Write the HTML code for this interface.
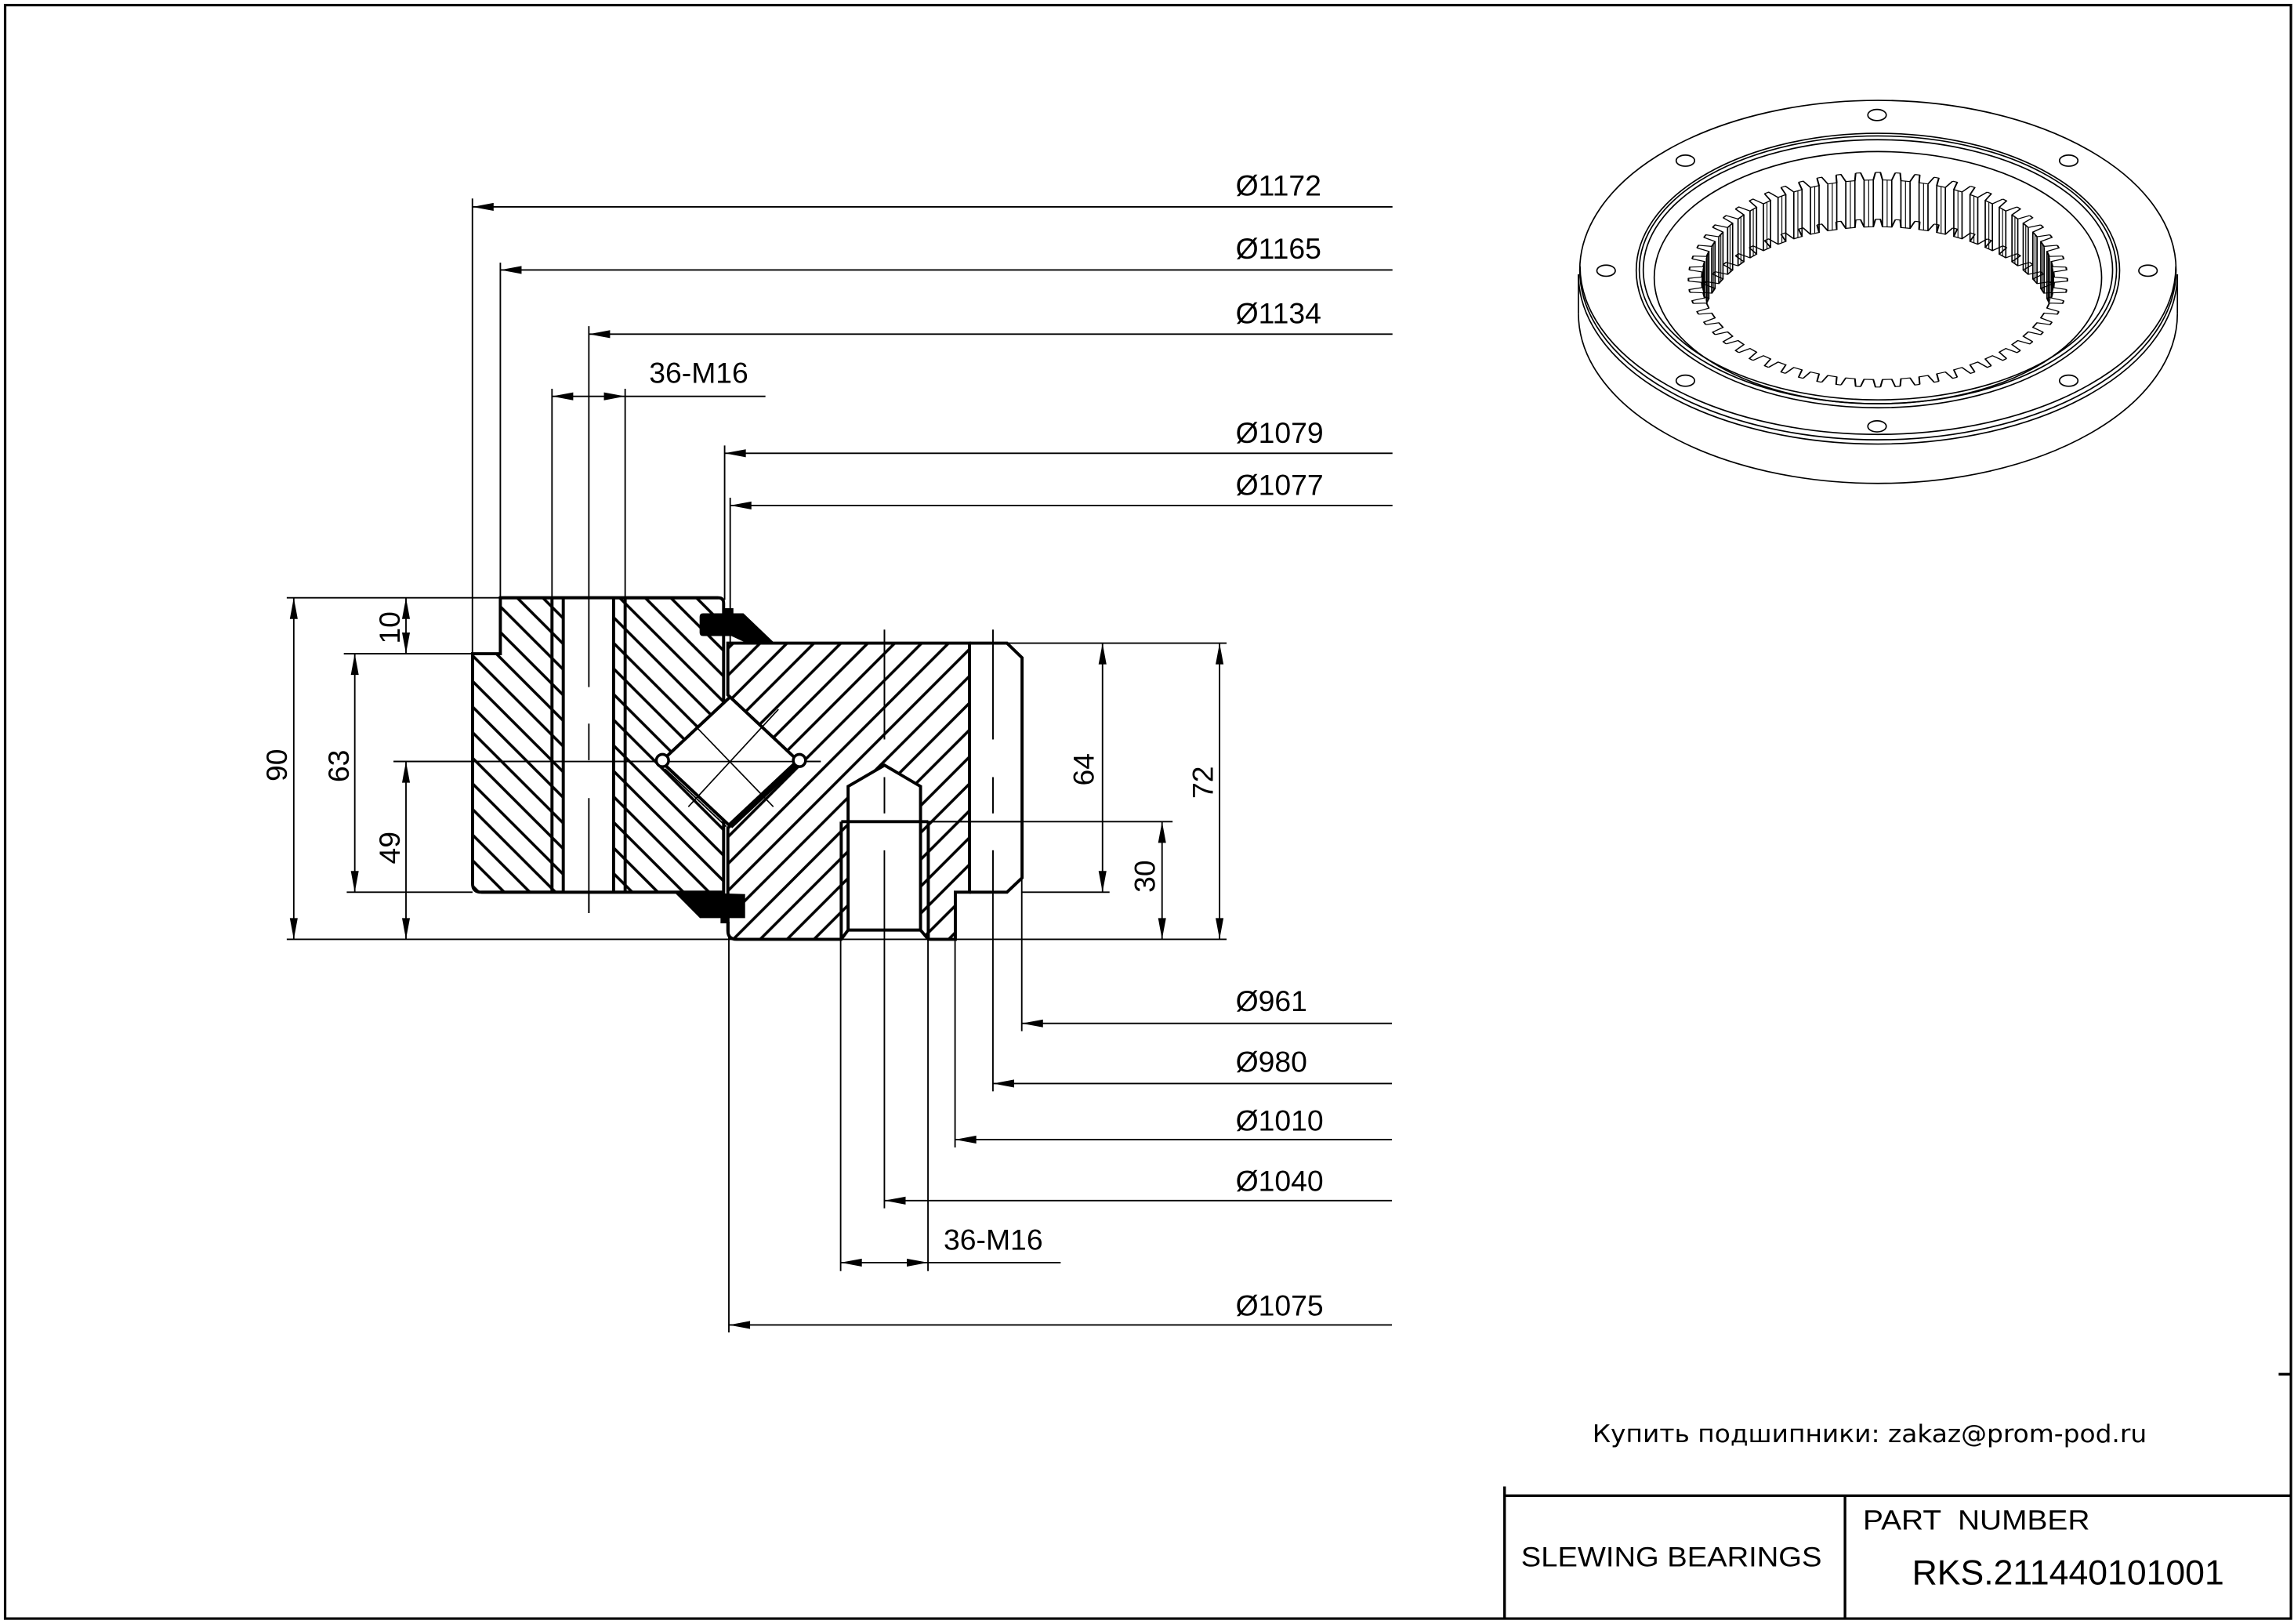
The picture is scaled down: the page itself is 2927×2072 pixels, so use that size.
<!DOCTYPE html>
<html><head><meta charset="utf-8">
<style>
html,body{margin:0;padding:0;background:#fff;}
svg{display:block;}
text{font-family:"Liberation Sans",Arial,sans-serif;fill:#000;stroke:none;}
</style></head><body>
<svg id="s" xmlns="http://www.w3.org/2000/svg" xmlns:xlink="http://www.w3.org/1999/xlink" width="2927" height="2072" viewBox="0 0 1568 1110" preserveAspectRatio="none">
<defs>
<marker id="ar" markerUnits="userSpaceOnUse" orient="auto-start-reverse" markerWidth="1" markerHeight="1" overflow="visible"><path d="M0,0 L-14.5,-2.7 L-14.5,2.7 Z" fill="#000" stroke="none"/></marker>
<pattern id="hA" width="17.5" height="17.5" patternUnits="userSpaceOnUse" patternTransform="translate(0,2.6)"><path d="M-2,-2 L19.5,19.5 M-2,15.5 L2,19.5 M15.5,-2 L19.5,2" stroke="#000" stroke-width="1.9" fill="none"/></pattern>
<pattern id="hB" width="18.4" height="18.4" patternUnits="userSpaceOnUse" patternTransform="translate(2.4,0)"><path d="M-2,20.4 L20.4,-2 M-2,2 L2,-2 M16.4,20.4 L20.4,16.4" stroke="#000" stroke-width="1.9" fill="none"/></pattern>
<clipPath id="bore"><ellipse cx="1283.6" cy="191.2" rx="120.5" ry="68.25"/></clipPath>
<polyline id="tt" points="129.489,-1.696 129.489,1.696 120.459,3.155 120.129,9.454 128.956,11.849"/>
</defs>
<rect x="0" y="0" width="1568" height="1110" fill="#fff"/>

<!-- frame -->
<rect x="3.5" y="3.5" width="1562.4" height="1102.8" fill="none" stroke="#000" stroke-width="1.7"/>
<g stroke="#000" stroke-width="1.8" fill="none">
<line x1="1028.4" y1="1022.3" x2="1565.9" y2="1022.3"/>
<line x1="1028.4" y1="1016" x2="1028.4" y2="1106.3"/>
<line x1="1261.1" y1="1022.3" x2="1261.1" y2="1106.3"/>
<line x1="1557.5" y1="939.3" x2="1565.9" y2="939.3"/>
</g>
<text x="1039.7" y="1070.5" font-size="18.7" textLength="205.5" lengthAdjust="spacingAndGlyphs">SLEWING BEARINGS</text>
<text x="1273.4" y="1045.5" font-size="18.7" textLength="155" lengthAdjust="spacingAndGlyphs" style="white-space:pre">PART  NUMBER</text>
<text x="1306.9" y="1083" font-size="23.7" textLength="213.3" lengthAdjust="spacingAndGlyphs">RKS.211440101001</text>
<text x="1088.4" y="985.7" font-size="16.5" textLength="379" lengthAdjust="spacingAndGlyphs" style="font-family:'DejaVu Sans','Liberation Sans',sans-serif">Купить подшипники: zakaz@prom-pod.ru</text>

<!-- ===== SECTION ===== -->
<g stroke="#000" fill="none">
<g stroke-width="1">
<line x1="196" y1="408.6" x2="342" y2="408.6"/>
<line x1="196" y1="642" x2="838.4" y2="642"/>
<line x1="235" y1="446.8" x2="323" y2="446.8"/>
<line x1="237" y1="609.8" x2="323" y2="609.8"/>
<line x1="269" y1="520.5" x2="561" y2="520.5"/>
<line x1="688" y1="439.6" x2="838.4" y2="439.6"/>
<line x1="698" y1="609.8" x2="758.4" y2="609.8"/>
<line x1="634.5" y1="561.6" x2="801.5" y2="561.6"/>
<line x1="200.8" y1="408.6" x2="200.8" y2="642" marker-start="url(#ar)" marker-end="url(#ar)"/>
<line x1="242.5" y1="446.8" x2="242.5" y2="609.8" marker-start="url(#ar)" marker-end="url(#ar)"/>
<line x1="277.5" y1="408.6" x2="277.5" y2="446.8" marker-start="url(#ar)" marker-end="url(#ar)"/>
<line x1="277.5" y1="520.5" x2="277.5" y2="642" marker-start="url(#ar)" marker-end="url(#ar)"/>
<line x1="753.6" y1="439.6" x2="753.6" y2="609.8" marker-start="url(#ar)" marker-end="url(#ar)"/>
<line x1="833.6" y1="439.6" x2="833.6" y2="642" marker-start="url(#ar)" marker-end="url(#ar)"/>
<line x1="794.3" y1="561.6" x2="794.3" y2="642" marker-start="url(#ar)" marker-end="url(#ar)"/>

<line x1="322.9" y1="135.7" x2="322.9" y2="446.8"/>
<line x1="322.9" y1="141.4" x2="951.8" y2="141.4" marker-start="url(#ar)"/>
<line x1="342" y1="179.5" x2="342" y2="408.6"/>
<line x1="342" y1="184.5" x2="951.8" y2="184.5" marker-start="url(#ar)"/>
<line x1="402.5" y1="222.9" x2="402.5" y2="469.6"/>
<line x1="402.5" y1="494.6" x2="402.5" y2="519.6"/>
<line x1="402.5" y1="545.5" x2="402.5" y2="624.1"/>
<line x1="402.5" y1="228.4" x2="951.8" y2="228.4" marker-start="url(#ar)"/>
<line x1="377.3" y1="265.7" x2="377.3" y2="408.6"/>
<line x1="427.3" y1="265.7" x2="427.3" y2="408.6"/>
<line x1="377.3" y1="270.9" x2="427.3" y2="270.9" marker-start="url(#ar)" marker-end="url(#ar)"/>
<line x1="427.3" y1="270.9" x2="523.2" y2="270.9"/>
<line x1="495.3" y1="304.5" x2="495.3" y2="410"/>
<line x1="495.3" y1="309.8" x2="951.8" y2="309.8" marker-start="url(#ar)"/>
<line x1="499.1" y1="340.2" x2="499.1" y2="439.6"/>
<line x1="499.1" y1="345.5" x2="951.8" y2="345.5" marker-start="url(#ar)"/>

<line x1="698.4" y1="600" x2="698.4" y2="704.8"/>
<line x1="698.4" y1="699.5" x2="951.4" y2="699.5" marker-start="url(#ar)"/>
<line x1="678.7" y1="430.4" x2="678.7" y2="505.4"/>
<line x1="678.7" y1="531.2" x2="678.7" y2="555.9"/>
<line x1="678.7" y1="581.2" x2="678.7" y2="745.9"/>
<line x1="678.7" y1="740.6" x2="951.4" y2="740.6" marker-start="url(#ar)"/>
<line x1="652.8" y1="642" x2="652.8" y2="784.3"/>
<line x1="652.8" y1="778.9" x2="951.4" y2="778.9" marker-start="url(#ar)"/>
<line x1="604.5" y1="430.4" x2="604.5" y2="505.4"/>
<line x1="604.5" y1="531.2" x2="604.5" y2="555.9"/>
<line x1="604.5" y1="581.2" x2="604.5" y2="825.9"/>
<line x1="604.5" y1="820.6" x2="951.4" y2="820.6" marker-start="url(#ar)"/>
<line x1="574.6" y1="642" x2="574.6" y2="868.8"/>
<line x1="634.3" y1="642" x2="634.3" y2="868.8"/>
<line x1="574.6" y1="863" x2="634.3" y2="863" marker-start="url(#ar)" marker-end="url(#ar)"/>
<line x1="634.3" y1="863" x2="725" y2="863"/>
<line x1="498.2" y1="630" x2="498.2" y2="910.7"/>
<line x1="498.2" y1="905.6" x2="951.4" y2="905.6" marker-start="url(#ar)"/>
</g>

<!-- outer ring -->
<path d="M342,408.6 L491,408.6 Q494.6,408.6 494.6,412.2 L494.6,480.5 L452,520.5 L494.6,560.5 L494.6,609.8 L329,609.8 Q323,609.8 323,603.8 L323,446.8 L342,446.8 Z" fill="url(#hA)" stroke-width="2.1"/>
<rect x="385" y="408.6" width="34.4" height="201.2" fill="#fff" stroke="none"/>
<g stroke-width="2.1">
<line x1="377.3" y1="408.6" x2="377.3" y2="609.8"/>
<line x1="385" y1="408.6" x2="385" y2="609.8"/>
<line x1="419.4" y1="408.6" x2="419.4" y2="609.8"/>
<line x1="427.3" y1="408.6" x2="427.3" y2="609.8"/>
<line x1="342" y1="408.6" x2="491" y2="408.6"/>
<line x1="329" y1="609.8" x2="494.6" y2="609.8"/>
</g>
<g stroke-width="1">
<line x1="402.5" y1="408.6" x2="402.5" y2="469.6"/>
<line x1="402.5" y1="494.6" x2="402.5" y2="519.6"/>
<line x1="402.5" y1="545.5" x2="402.5" y2="624.1"/>
<line x1="269" y1="520.5" x2="561" y2="520.5"/>
</g>

<!-- inner ring -->
<path d="M497.5,439.6 L662.7,439.6 L662.7,609.8 L653,609.8 L653,642 L634.5,642 L629.2,635.7 L629.2,537.5 L604.6,523 L579.7,537.5 L579.7,635.7 L575,642 L503.5,642 Q497.5,642 497.5,636 L497.5,566 L546,520.5 L497.5,475 Z" fill="url(#hB)" stroke-width="2.1"/>
<path d="M662.7,439.6 L688.3,439.6 L698.6,449.6 L698.6,600 L688.3,609.8 L662.7,609.8" stroke-width="2.1"/>
<g stroke-width="2.1">
<line x1="575" y1="561.6" x2="575" y2="642"/>
<line x1="634.5" y1="561.6" x2="634.5" y2="642"/>
<line x1="575" y1="561.6" x2="634.5" y2="561.6"/>
<line x1="579.7" y1="635.7" x2="629.2" y2="635.7"/>
</g>
<g stroke-width="1">
<line x1="604.5" y1="430.4" x2="604.5" y2="505.4"/>
<line x1="604.5" y1="531.2" x2="604.5" y2="555.9"/>
<line x1="678.7" y1="430.4" x2="678.7" y2="505.4"/>
<line x1="678.7" y1="531.2" x2="678.7" y2="555.9"/>
<line x1="678.7" y1="581.2" x2="678.7" y2="609.8"/>
<line x1="634.5" y1="561.6" x2="698.6" y2="561.6"/>
</g>

<!-- roller -->
<polygon points="452,520.5 499,476.4 546,520.5 499,564.6" fill="#fff" stroke-width="2.1"/>
<line x1="546" y1="520.5" x2="499" y2="564.6" stroke-width="4.2"/>
<line x1="454.5" y1="525.5" x2="496.5" y2="565" stroke-width="1"/>
<g stroke-width="0.9">
<line x1="470.5" y1="551.4" x2="532.1" y2="484.8"/>
<line x1="476.8" y1="497.8" x2="528.6" y2="551.4"/>
<line x1="452" y1="520.5" x2="546" y2="520.5"/>
</g>
<circle cx="452.8" cy="519.8" r="4.2" fill="#fff" stroke-width="1.9"/>
<circle cx="546.4" cy="519.8" r="4.2" fill="#fff" stroke-width="1.9"/>

<!-- seals -->
<g fill="#000" stroke="#000" stroke-width="0.8">
<path d="M480.6,419.6 L508,419.6 L528.6,439.3 L510.7,439.3 L500,434.3 L480.6,434.3 Q478.6,434.3 478.6,432.3 L478.6,421.6 Q478.6,419.6 480.6,419.6 Z"/>
<rect x="494.6" y="416.1" width="6.3" height="3.5"/>
<path d="M461.6,610 L508.9,611.5 L508.9,627.1 L478.6,627.1 Z"/>
<rect x="492.9" y="627.1" width="5.3" height="3.6"/>
</g>
</g>

<!-- dimension texts -->
<g font-size="20">
<text x="844.6" y="133.6">Ø1172</text>
<text x="844.6" y="176.8">Ø1165</text>
<text x="844.6" y="220.9">Ø1134</text>
<text x="844.6" y="302.7">Ø1079</text>
<text x="844.6" y="338.4">Ø1077</text>
<text x="443.7" y="261.6">36-M16</text>
<text x="844.6" y="691">Ø961</text>
<text x="844.6" y="732.5">Ø980</text>
<text x="844.6" y="772.9">Ø1010</text>
<text x="844.6" y="813.9">Ø1040</text>
<text x="645" y="854.1">36-M16</text>
<text x="844.6" y="899.1">Ø1075</text>
<text x="196" y="523" text-anchor="middle" transform="rotate(-90 196 523)">90</text>
<text x="238.3" y="523.6" text-anchor="middle" transform="rotate(-90 238.3 523.6)">63</text>
<text x="273.2" y="429" text-anchor="middle" transform="rotate(-90 273.2 429)">10</text>
<text x="273.2" y="579.5" text-anchor="middle" transform="rotate(-90 273.2 579.5)">49</text>
<text x="747.6" y="525.9" text-anchor="middle" transform="rotate(-90 747.6 525.9)">64</text>
<text x="828.9" y="534.8" text-anchor="middle" transform="rotate(-90 828.9 534.8)">72</text>
<text x="789.4" y="599" text-anchor="middle" transform="rotate(-90 789.4 599)">30</text>
</g>

<!-- ===== 3D VIEW ===== -->
<g fill="none" stroke="#000" stroke-width="0.9">
<ellipse cx="1283.6" cy="184.6" rx="203.8" ry="116"/>
<path d="M1078.9,187.5 A204.7,116 0 0 0 1488.3,187.5"/>
<path d="M1080,182 A203.6,115 0 0 0 1487.2,182"/>
<path d="M1078.9,187.5 V214.4 M1488.3,187.5 V214.4"/>
<path d="M1078.9,214.4 A204.7,116 0 0 0 1488.3,214.4"/>
<ellipse cx="1468.2" cy="185" rx="6.3" ry="3.8"/>
<ellipse cx="1414" cy="260.2" rx="6.3" ry="3.8"/>
<ellipse cx="1283" cy="291.4" rx="6.3" ry="3.8"/>
<ellipse cx="1152" cy="260.2" rx="6.3" ry="3.8"/>
<ellipse cx="1097.8" cy="185" rx="6.3" ry="3.8"/>
<ellipse cx="1152" cy="109.8" rx="6.3" ry="3.8"/>
<ellipse cx="1283" cy="78.6" rx="6.3" ry="3.8"/>
<ellipse cx="1414" cy="109.8" rx="6.3" ry="3.8"/>
<ellipse cx="1283.6" cy="184.9" rx="165.2" ry="93.8"/>
<ellipse cx="1283.6" cy="184.4" rx="163.1" ry="91.5"/>
<ellipse cx="1283.6" cy="184.4" rx="160.4" ry="88.9"/>
<ellipse cx="1283.6" cy="189.8" rx="152.9" ry="86.2"/>
</g>

<!-- gear face -->
<g id="gearface" transform="translate(1283.6,191.2) scale(1,0.5664)" fill="none" stroke="#000" stroke-width="1.1" stroke-linejoin="round">
<use href="#tt" transform="rotate(0)"/><use href="#tt" transform="rotate(6)"/><use href="#tt" transform="rotate(12)"/><use href="#tt" transform="rotate(18)"/><use href="#tt" transform="rotate(24)"/><use href="#tt" transform="rotate(30)"/>
<use href="#tt" transform="rotate(36)"/><use href="#tt" transform="rotate(42)"/><use href="#tt" transform="rotate(48)"/><use href="#tt" transform="rotate(54)"/><use href="#tt" transform="rotate(60)"/><use href="#tt" transform="rotate(66)"/>
<use href="#tt" transform="rotate(72)"/><use href="#tt" transform="rotate(78)"/><use href="#tt" transform="rotate(84)"/><use href="#tt" transform="rotate(90)"/><use href="#tt" transform="rotate(96)"/><use href="#tt" transform="rotate(102)"/>
<use href="#tt" transform="rotate(108)"/><use href="#tt" transform="rotate(114)"/><use href="#tt" transform="rotate(120)"/><use href="#tt" transform="rotate(126)"/><use href="#tt" transform="rotate(132)"/><use href="#tt" transform="rotate(138)"/>
<use href="#tt" transform="rotate(144)"/><use href="#tt" transform="rotate(150)"/><use href="#tt" transform="rotate(156)"/><use href="#tt" transform="rotate(162)"/><use href="#tt" transform="rotate(168)"/><use href="#tt" transform="rotate(174)"/>
<use href="#tt" transform="rotate(180)"/><use href="#tt" transform="rotate(186)"/><use href="#tt" transform="rotate(192)"/><use href="#tt" transform="rotate(198)"/><use href="#tt" transform="rotate(204)"/><use href="#tt" transform="rotate(210)"/>
<use href="#tt" transform="rotate(216)"/><use href="#tt" transform="rotate(222)"/><use href="#tt" transform="rotate(228)"/><use href="#tt" transform="rotate(234)"/><use href="#tt" transform="rotate(240)"/><use href="#tt" transform="rotate(246)"/>
<use href="#tt" transform="rotate(252)"/><use href="#tt" transform="rotate(258)"/><use href="#tt" transform="rotate(264)"/><use href="#tt" transform="rotate(270)"/><use href="#tt" transform="rotate(276)"/><use href="#tt" transform="rotate(282)"/>
<use href="#tt" transform="rotate(288)"/><use href="#tt" transform="rotate(294)"/><use href="#tt" transform="rotate(300)"/><use href="#tt" transform="rotate(306)"/><use href="#tt" transform="rotate(312)"/><use href="#tt" transform="rotate(318)"/>
<use href="#tt" transform="rotate(324)"/><use href="#tt" transform="rotate(330)"/><use href="#tt" transform="rotate(336)"/><use href="#tt" transform="rotate(342)"/><use href="#tt" transform="rotate(348)"/><use href="#tt" transform="rotate(354)"/>
</g>

<!-- gear back wall (seen through bore) -->
<g clip-path="url(#bore)" fill="none" stroke="#000">
<g transform="translate(0,32)"><use href="#gearface"/></g>
<path stroke-width="0.9" d="M1163.14,189.42v32 M1163.47,185.86v32 M1164.13,182.32v32 M1165.12,178.81v32 M1166.43,175.33v32 M1168.06,171.89v32 M1170.01,168.5v32 M1172.27,165.18v32 M1174.84,161.93v32 M1177.7,158.75v32 M1180.86,155.67v32 M1184.29,152.68v32 M1188,149.8v32 M1191.97,147.04v32 M1196.19,144.39v32 M1200.65,141.87v32 M1205.34,139.49v32 M1210.24,137.25v32 M1215.35,135.16v32 M1220.64,133.22v32 M1226.1,131.44v32 M1231.72,129.82v32 M1237.49,128.38v32 M1243.38,127.1v32 M1249.38,126v32 M1255.47,125.08v32 M1261.64,124.34v32 M1267.87,123.78v32 M1274.15,123.41v32 M1280.45,123.22v32 M1404.06,189.42v32 M1403.73,185.86v32 M1403.07,182.32v32 M1402.08,178.81v32 M1400.77,175.33v32 M1399.14,171.89v32 M1397.19,168.5v32 M1394.93,165.18v32 M1392.36,161.93v32 M1389.5,158.75v32 M1386.34,155.67v32 M1382.91,152.68v32 M1379.2,149.8v32 M1375.23,147.04v32 M1371.01,144.39v32 M1366.55,141.87v32 M1361.86,139.49v32 M1356.96,137.25v32 M1351.85,135.16v32 M1346.56,133.22v32 M1341.1,131.44v32 M1335.48,129.82v32 M1329.71,128.38v32 M1323.82,127.1v32 M1317.82,126v32 M1311.73,125.08v32 M1305.56,124.34v32 M1299.33,123.78v32 M1293.05,123.41v32 M1286.75,123.22v32"/>
<path stroke-width="0.6" d="M1163.27,187.63v32 M1164.58,180.52v32 M1167.21,173.54v32 M1171.1,166.74v32 M1176.23,160.21v32 M1182.54,154.03v32 M1189.95,148.25v32 M1198.39,142.94v32 M1207.77,138.16v32 M1217.97,133.96v32 M1228.89,130.39v32 M1240.42,127.48v32 M1252.41,125.28v32 M1264.75,123.79v32 M1277.29,123.04v32 M1403.93,187.63v32 M1402.62,180.52v32 M1399.99,173.54v32 M1396.1,166.74v32 M1390.97,160.21v32 M1384.66,154.03v32 M1377.25,148.25v32 M1368.81,142.94v32 M1359.43,138.16v32 M1349.23,133.96v32 M1338.31,130.39v32 M1326.78,127.48v32 M1314.79,125.28v32 M1302.45,123.79v32 M1289.91,123.04v32"/>
</g>
</svg>
</body></html>
